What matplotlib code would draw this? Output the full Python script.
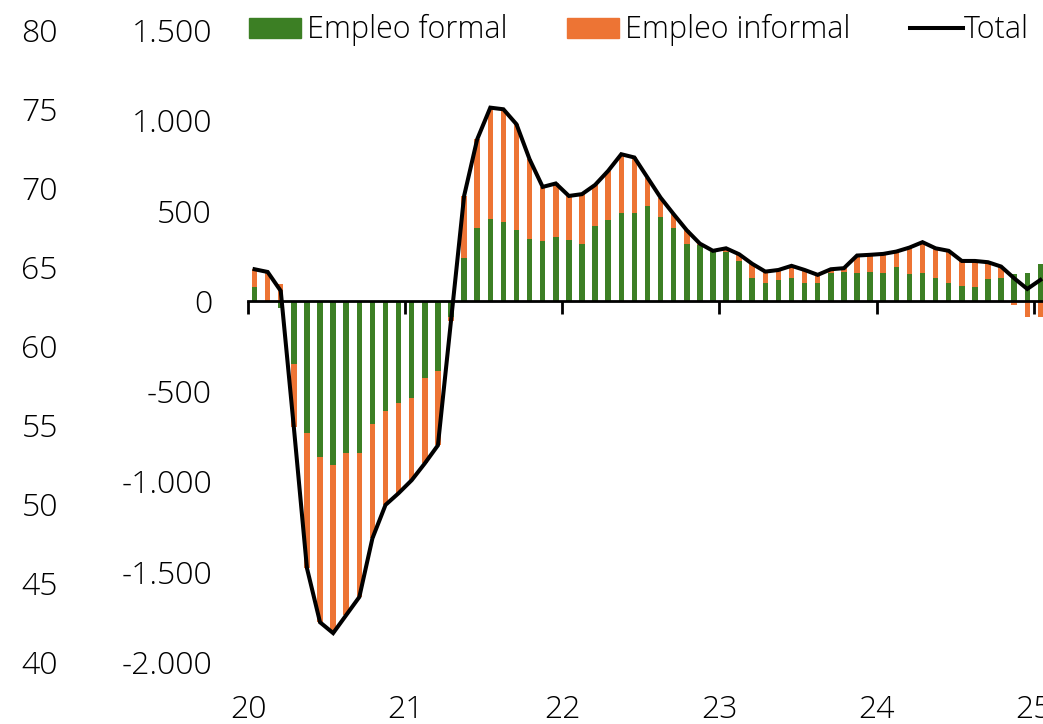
import matplotlib
matplotlib.use("Agg")
import matplotlib.pyplot as plt
import matplotlib.transforms as mtransforms
from matplotlib.patches import Rectangle
from matplotlib.lines import Line2D
import numpy as np

plt.rcParams['font.family'] = ['Open Sans', 'DejaVu Sans']
plt.rcParams['font.weight'] = 'light'

# Monthly data, Jan 2020 .. Jan 2025 (thousands)
months = [f"{y}-{m:02d}" for y in range(2020, 2026) for m in range(1, 13)][:61]
formal = [77, 0, -37, -347, -731, -864, -910, -840, -840, -683, -611, -565,
          -537, -426, -391, -92, 240, 402, 456, 439, 393, 345, 332, 356,
          338, 316, 417, 447, 484, 484, 526, 467, 406, 314, 308, 271,
          273, 220, 126, 98, 115, 126, 98, 98, 155, 162, 157, 162,
          157, 186, 147, 153, 129, 99, 85, 79, 120, 129, 150, 157,
          205]
informal = [98, 160, 92, -353, -749, -916, -930, -900, -800, -632, -519, -500,
            -456, -474, -409, -18, 341, 493, 614, 622, 585, 439, 299, 294,
            243, 275, 225, 273, 328, 310, 157, 105, 74, 77, 9, 6,
            18, 38, 79, 64, 56, 68, 73, 46, 20, 19, 94, 93,
            103, 87, 148, 172, 162, 178, 136, 142, 94, 61, -25, -91,
            -89]
year_labels = ["20", "21", "22", "23", "24", "25"]
left_ticks = [40, 45, 50, 55, 60, 65, 70, 75, 80]
main_ticks = [-2000, -1500, -1000, -500, 0, 500, 1000, 1500]

formal = np.array(formal, dtype=float)
informal = np.array(informal, dtype=float)
total = formal + informal
x = np.arange(len(formal))
inf_bottom = np.where(np.sign(informal) == np.sign(formal), formal, 0.0)

GREEN = "#3C7F24"
ORANGE = "#ED7434"

W, H = 1043, 724
fig = plt.figure(figsize=(W / 100, H / 100), dpi=100)
ax = fig.add_axes([248 / W, (H - 662) / H, 1 - 248 / W, (662 - 30) / H])

ax.bar(x, formal, width=0.42, color=GREEN, zorder=2)
ax.bar(x, informal, width=0.42, bottom=inf_bottom, color=ORANGE, zorder=2)
ax.plot(x, total, color="black", lw=2.9, zorder=4, solid_joinstyle='miter')

ax.set_xlim(-0.5, 60.2)
ax.set_ylim(-2000, 1500)

for s in ['top', 'right', 'left']:
    ax.spines[s].set_visible(False)
ax.spines['bottom'].set_position(('data', 0))
ax.spines['bottom'].set_linewidth(2.0)
ax.spines['bottom'].set_zorder(3)

yr_pos = [-0.5 + 12 * i for i in range(len(year_labels))]
ax.set_xticks(yr_pos)
ax.set_xticklabels([])
ax.tick_params(axis='x', direction='out', length=9, width=2.0)

FS = 23
ax.set_yticks(main_ticks)
ax.set_yticklabels([f"{v:,}".replace(",", ".") for v in main_ticks], fontsize=FS)
ax.tick_params(axis='y', length=0, pad=36 * 72 / 100)

trans = mtransforms.blended_transform_factory(ax.transData, fig.transFigure)
for p, lab in zip(yr_pos, year_labels):
    ax.text(p, 14 / H, lab, transform=trans, ha='center', va='center', fontsize=FS, clip_on=False)

ax2 = ax.twinx()
ax2.set_ylim(40, 80)
ax2.yaxis.tick_left()
ax2.set_yticks(left_ticks)
ax2.set_yticklabels([str(v) for v in left_ticks], fontsize=FS)
ax2.tick_params(axis='y', length=0, pad=190 * 72 / 100)
for s in ax2.spines.values():
    s.set_visible(False)

# legend (manual, top)
LFS = 22
base = (H - 37.5) / H
fig.add_artist(Rectangle((249 / W, (H - 37.7) / H), 52 / W, 19.4 / H, transform=fig.transFigure, color=GREEN))
fig.text(307 / W, base, "Empleo formal", fontsize=LFS, va='baseline', ha='left')
fig.add_artist(Rectangle((567 / W, (H - 37.7) / H), 52 / W, 19.4 / H, transform=fig.transFigure, color=ORANGE))
fig.text(625 / W, base, "Empleo informal", fontsize=LFS, va='baseline', ha='left')
fig.add_artist(Line2D([910 / W, 963 / W], [(H - 27.7) / H] * 2, transform=fig.transFigure, color='black', lw=2.9))
fig.text(964 / W, base, "Total", fontsize=LFS, va='baseline', ha='left')

fig.savefig("out.png", dpi=100)
